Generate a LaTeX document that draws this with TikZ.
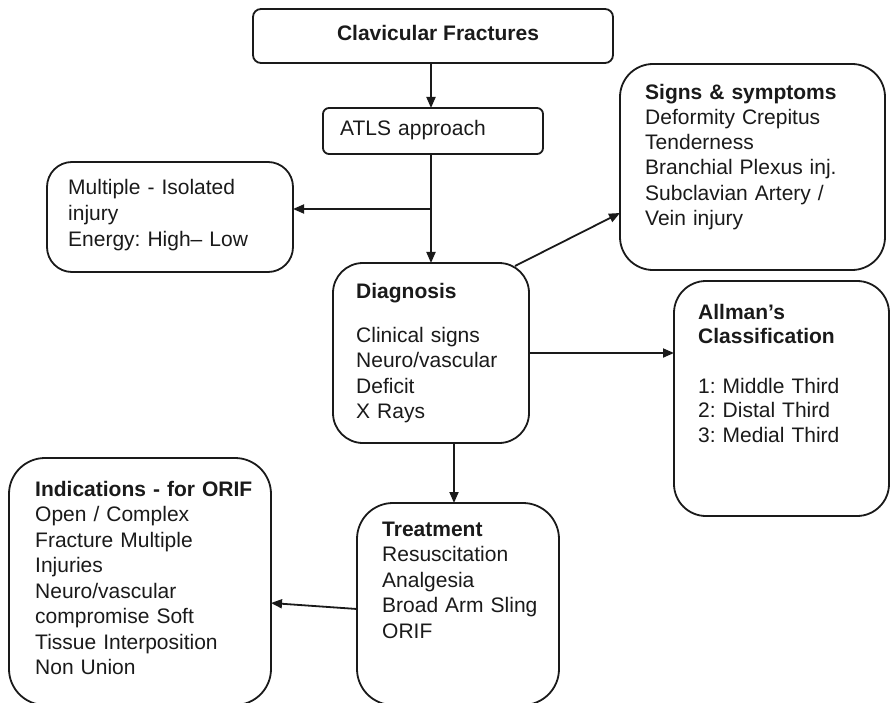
\documentclass[tikz,border=0pt]{standalone}
\usepackage{fontspec}
\setmainfont{Liberation Sans}
\usetikzlibrary{arrows.meta,calc}
\definecolor{ink}{HTML}{1A1A1A}
\frenchspacing
\begin{document}
\begin{tikzpicture}[x=1bp,y=-1bp,
  box/.style={draw=ink, line width=1.8bp, inner sep=0pt, outer sep=0pt},
  txt/.style={text=ink, inner sep=0pt, anchor=base west, text width=300bp,
    align=left, font=\fontsize{21bp}{25.4bp}\selectfont},
  link/.style={draw=ink, line width=1.8bp, -{Triangle[length=11bp,width=9bp]}},
  wire/.style={draw=ink, line width=1.8bp}
]
\clip (0,0) rectangle (891,703);
\fill[white] (0,0) rectangle (891,703);

% frames
\node[box, rounded corners=8bp,  minimum width=360bp, minimum height=54bp]  (clav)   at (433,36)    {};
\node[box, rounded corners=6bp,  minimum width=220bp, minimum height=46bp]  (atls)   at (433,131)   {};
\node[box, rounded corners=25bp, minimum width=246bp, minimum height=110bp] (mult)   at (170,217)   {};
\node[box, rounded corners=30bp, minimum width=196bp, minimum height=180bp] (diag)   at (431,353)   {};
\node[box, rounded corners=33bp, minimum width=265bp, minimum height=206bp] (signs)  at (752.5,167) {};
\node[box, rounded corners=32bp, minimum width=215bp, minimum height=235bp] (allman) at (781.5,398.5) {};
\node[box, rounded corners=36bp, minimum width=202bp, minimum height=202bp] (treat)  at (458,604)   {};
\node[box, rounded corners=36bp, minimum width=262bp, minimum height=247bp] (indic)  at (140,581.5) {};

% texts
\node[text=ink, inner sep=0pt, anchor=base, font=\fontsize{21bp}{25bp}\selectfont\bfseries]
  (clavtxt) at (438,41) {Clavicular Fractures};
\node[txt] (atlstxt) at (340,136) {ATLS approach};
\node[txt, font=\fontsize{21bp}{26bp}\selectfont] (multtxt) at (68,194)
  {Multiple - Isolated\\ injury\\ Energy: High– Low};
\node[txt] (diagtxt) at (356,298)
  {\textbf{Diagnosis}\\[19bp] Clinical signs\\ Neuro/vascular\\ Deficit\\ X Rays};
\node[txt, font=\fontsize{21bp}{25bp}\selectfont] (signstxt) at (645,100)
  {\textbf{Signs \& symptoms}\\ Deformity Crepitus\\ Tenderness\\ Branchial Plexus inj.\\ Subclavian Artery /\\ Vein injury};
\node[txt, font=\fontsize{21bp}{24.5bp}\selectfont] (allmantxt) at (698,319)
  {\textbf{Allman’s}\\ \textbf{Classification}\\[25bp] 1: Middle Third\\ 2: Distal Third\\ 3: Medial Third};
\node[txt, font=\fontsize{21bp}{25.5bp}\selectfont] (treattxt) at (382,536)
  {\textbf{Treatment}\\ Resuscitation\\ Analgesia\\ Broad Arm Sling\\ ORIF};
\node[txt, font=\fontsize{21bp}{25.5bp}\selectfont] (indictxt) at (35,496)
  {\textbf{Indications - for ORIF}\\ Open / Complex\\ Fracture Multiple\\ Injuries\\ Neuro/vascular\\ compromise Soft\\ Tissue Interposition\\ Non Union};

% connectors
\coordinate (trunk) at (431,0);
\coordinate (fork)  at (431,209);
\coordinate (stem)  at (454,0);
\draw[link] (clav.south -| trunk) -- (atls.north -| trunk);
\draw[link] (atls.south -| trunk) -- (diag.north -| trunk);
\draw[link] (fork) -- (fork -| mult.east);
\draw[link] ($(diag.north east)+(-14,3)$) -- ($(signs.west)+(0,46)$);
\draw[link] (diag.east) -- (allman.west |- diag.east);
\draw[link] (diag.south -| stem) -- (treat.north -| stem);
\draw[link] ($(treat.west)+(0,5)$) -- ($(indic.east)+(0,21.5)$);
\end{tikzpicture}
\end{document}
